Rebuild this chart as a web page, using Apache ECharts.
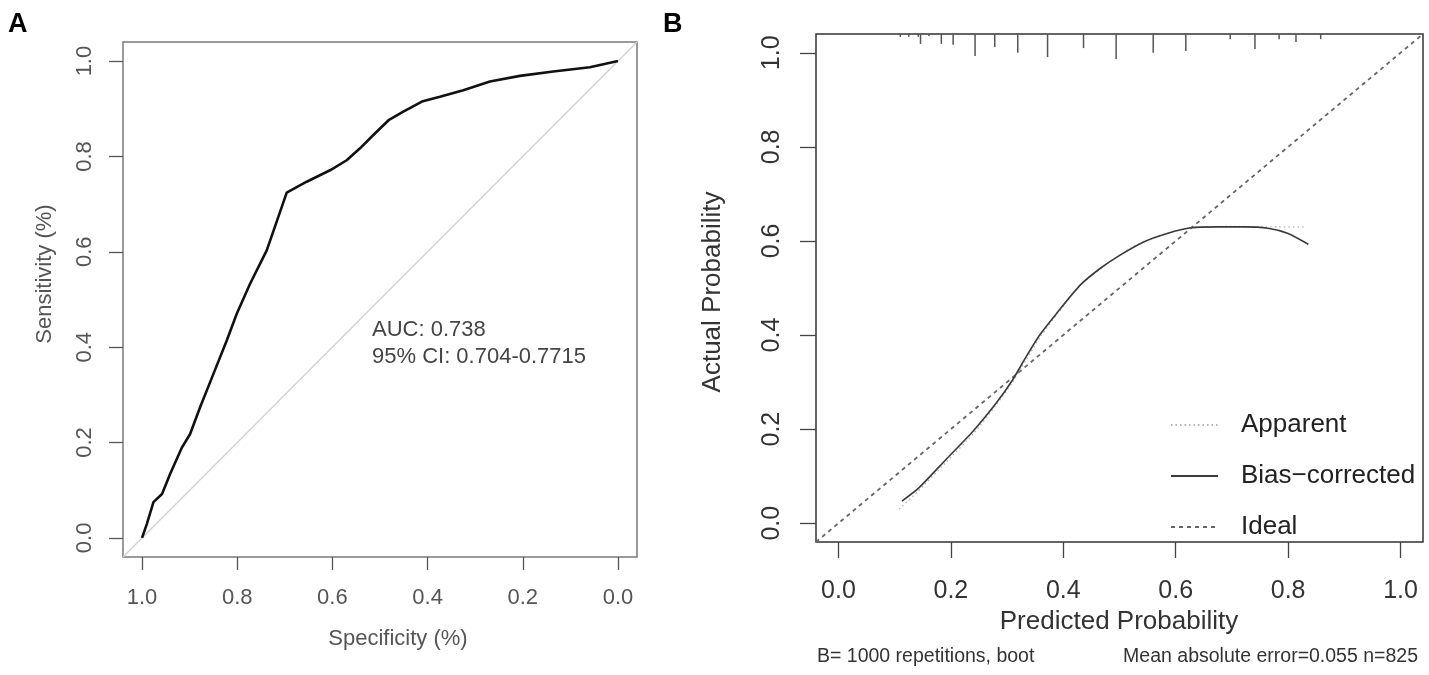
<!DOCTYPE html>
<html>
<head>
<meta charset="utf-8">
<script src="https://cdn.jsdelivr.net/npm/echarts@6/dist/echarts.min.js"></script>
<style>
  html, body { margin: 0; padding: 0; background: #fff; }
  #main { width: 1429px; height: 675px; }
</style>
</head>
<body>
<div id="main"></div>
<script>
var FONT = '"Liberation Sans", Arial, Helvetica, sans-serif';

// panel A: ROC curve
var rocSpec = [1.0, 0.990, 0.976, 0.958, 0.941, 0.916, 0.899, 0.878, 0.850, 0.822, 0.801, 0.773, 0.738, 0.696,
               0.654, 0.605, 0.570, 0.542, 0.514, 0.482, 0.451, 0.412, 0.374, 0.325, 0.269, 0.206, 0.136, 0.059, 0.0];
var rocSens = [0.0, 0.029, 0.075, 0.092, 0.134, 0.190, 0.218, 0.274, 0.344, 0.414, 0.470, 0.533, 0.603, 0.724,
               0.747, 0.771, 0.792, 0.817, 0.845, 0.876, 0.894, 0.915, 0.925, 0.939, 0.957, 0.969, 0.978, 0.987, 1.0];
var chanceSpec = [1.04, -0.04];
var chanceSens = [-0.04, 1.04];
var aucLines = ['AUC: 0.738', '95% CI: 0.704-0.7715'];

// panel B: calibration curve
var apparentX = [0.108, 0.140, 0.190, 0.240, 0.280, 0.310, 0.335, 0.360, 0.390, 0.430, 0.480, 0.520, 0.560, 0.600, 0.640, 0.700, 0.760, 0.832];
var apparentY = [0.030, 0.066, 0.128, 0.190, 0.250, 0.300, 0.350, 0.398, 0.446, 0.506, 0.553, 0.585, 0.607, 0.622, 0.629, 0.631, 0.630, 0.630];
var biasX = [0.113, 0.143, 0.191, 0.239, 0.281, 0.310, 0.334, 0.358, 0.388, 0.430, 0.466, 0.501, 0.543, 0.585, 0.627, 0.674, 0.722, 0.764, 0.800, 0.836];
var biasY = [0.047, 0.075, 0.135, 0.195, 0.256, 0.305, 0.354, 0.400, 0.446, 0.506, 0.542, 0.570, 0.598, 0.616, 0.628, 0.630, 0.630, 0.627, 0.616, 0.593];
var idealX = [-0.04, 1.04];
var idealY = [-0.04, 1.04];
// rug of predicted probabilities along the top (spike height in probability units)
var rugX = [0.110, 0.125, 0.142, 0.146, 0.161, 0.183, 0.204, 0.243, 0.278, 0.319, 0.372, 0.436, 0.494, 0.560, 0.618, 0.697, 0.741, 0.784, 0.814, 0.858];
var rugH = [0.006, 0.006, 0.006, 0.021, 0.004, 0.021, 0.023, 0.047, 0.028, 0.040, 0.049, 0.030, 0.053, 0.040, 0.036, 0.011, 0.032, 0.011, 0.017, 0.011];

var ticks = [0, 0.2, 0.4, 0.6, 0.8, 1.0];
var legendNames = ['Apparent', 'Bias\u2212corrected', 'Ideal'];
var footLeft = 'B= 1000 repetitions, boot';
var footRight = 'Mean absolute error=0.055 n=825';

function pairs(xs, ys) {
    return xs.map(function (x, i) { return [x, ys[i]]; });
}

function axisCfg(gridIndex, opts) {
    return {
        type: 'value',
        gridIndex: gridIndex,
        min: -0.04,
        max: 1.04,
        inverse: !!opts.inverse,
        splitLine: { show: false },
        axisLine: { show: false, onZero: false },
        axisTick: {
            show: true,
            customValues: ticks,
            length: opts.tickLen,
            lineStyle: { color: opts.tickColor, width: 1.3 }
        },
        axisLabel: {
            customValues: ticks,
            formatter: function (v) { return v.toFixed(1); },
            rotate: opts.rotate || 0,
            margin: opts.margin,
            fontFamily: FONT,
            fontSize: opts.fontSize,
            color: opts.labelColor
        }
    };
}

var myChart = echarts.init(document.getElementById('main'));

var option = {
    backgroundColor: '#fff',
    animation: false,
    grid: [
        { left: 123, top: 42, width: 514, height: 515, show: true, borderColor: '#7a7a7a', borderWidth: 1.5, backgroundColor: 'transparent' },
        { left: 816, top: 34, width: 607, height: 508, show: true, borderColor: '#333', borderWidth: 1.5, backgroundColor: 'transparent' }
    ],
    xAxis: [
        axisCfg(0, { inverse: true, tickLen: 13, tickColor: '#555', margin: 30, fontSize: 22, labelColor: '#555' }),
        axisCfg(1, { tickLen: 16, tickColor: '#444', margin: 37, fontSize: 25, labelColor: '#333' })
    ],
    yAxis: [
        axisCfg(0, { tickLen: 14, tickColor: '#555', margin: 27, fontSize: 22, labelColor: '#555', rotate: 90 }),
        axisCfg(1, { tickLen: 16, tickColor: '#444', margin: 31, fontSize: 25, labelColor: '#333', rotate: 90 })
    ],
    legend: {
        data: legendNames,
        orient: 'vertical',
        left: 1170,
        top: 412,
        padding: 0,
        itemWidth: 47,
        itemHeight: 26,
        itemGap: 25,
        selectedMode: false,
        itemStyle: { opacity: 0 },
        textStyle: { fontFamily: FONT, fontSize: 26, color: '#222', padding: [0, 0, 0, 18] }
    },
    series: [
        {
            name: 'chance',
            type: 'line',
            xAxisIndex: 0, yAxisIndex: 0,
            data: pairs(chanceSpec, chanceSens),
            symbol: 'none',
            lineStyle: { color: '#cfcfcf', width: 1.2 },
            silent: true
        },
        {
            name: 'ROC',
            type: 'line',
            xAxisIndex: 0, yAxisIndex: 0,
            data: pairs(rocSpec, rocSens),
            symbol: 'none',
            lineStyle: { color: '#111', width: 2.6 },
            silent: true
        },
        {
            name: legendNames[2],
            type: 'line',
            xAxisIndex: 1, yAxisIndex: 1,
            data: pairs(idealX, idealY),
            symbol: 'none',
            lineStyle: { color: '#666', width: 1.8, type: [4, 4] },
            itemStyle: { color: '#666' },
            silent: true
        },
        {
            name: legendNames[0],
            type: 'line',
            xAxisIndex: 1, yAxisIndex: 1,
            data: pairs(apparentX, apparentY),
            symbol: 'none',
            smooth: 0.2,
            lineStyle: { color: '#b5b5b5', width: 1.3, type: [1.5, 3] },
            itemStyle: { color: '#b5b5b5' },
            silent: true
        },
        {
            name: legendNames[1],
            type: 'line',
            xAxisIndex: 1, yAxisIndex: 1,
            data: pairs(biasX, biasY),
            symbol: 'none',
            smooth: 0.2,
            lineStyle: { color: '#3a3a3a', width: 1.6 },
            itemStyle: { color: '#3a3a3a' },
            silent: true
        },
        {
            name: 'rug',
            type: 'custom',
            xAxisIndex: 1, yAxisIndex: 1,
            data: pairs(rugX, rugH),
            silent: true,
            renderItem: function (params, api) {
                var x = api.value(0);
                var h = api.value(1);
                var p1 = api.coord([x, 1.04]);
                var p2 = api.coord([x, 1.04 - h]);
                return {
                    type: 'line',
                    shape: { x1: p1[0], y1: p1[1], x2: p2[0], y2: p2[1] },
                    style: { stroke: '#555', lineWidth: 1.5 }
                };
            }
        }
    ],
    graphic: [
        { type: 'text', left: 8, top: 11, style: { text: 'A', font: 'bold 27px ' + FONT, fill: '#000' } },
        { type: 'text', left: 663, top: 11, style: { text: 'B', font: 'bold 27px ' + FONT, fill: '#000' } },
        { type: 'text', x: 398, y: 639, style: { text: 'Specificity (%)', font: '22px ' + FONT, fill: '#555', textAlign: 'center', textVerticalAlign: 'middle' } },
        { type: 'text', x: 45, y: 274, rotation: Math.PI / 2, style: { text: 'Sensitivity (%)', font: '22px ' + FONT, fill: '#555', textAlign: 'center', textVerticalAlign: 'middle' } },
        { type: 'text', x: 372, y: 330, style: { text: aucLines[0], font: '22px ' + FONT, fill: '#444', textVerticalAlign: 'middle' } },
        { type: 'text', x: 372, y: 357, style: { text: aucLines[1], font: '22px ' + FONT, fill: '#444', textVerticalAlign: 'middle' } },
        { type: 'text', x: 1119, y: 622, style: { text: 'Predicted Probability', font: '26px ' + FONT, fill: '#333', textAlign: 'center', textVerticalAlign: 'middle' } },
        { type: 'text', x: 713, y: 292, rotation: Math.PI / 2, style: { text: 'Actual Probability', font: '26px ' + FONT, fill: '#333', textAlign: 'center', textVerticalAlign: 'middle' } },
        { type: 'text', x: 817, y: 657, style: { text: footLeft, font: '19.5px ' + FONT, fill: '#333', textVerticalAlign: 'middle' } },
        { type: 'text', x: 1418, y: 657, style: { text: footRight, font: '19.5px ' + FONT, fill: '#333', textAlign: 'right', textVerticalAlign: 'middle' } }
    ]
};

myChart.setOption(option);
</script>
</body>
</html>
